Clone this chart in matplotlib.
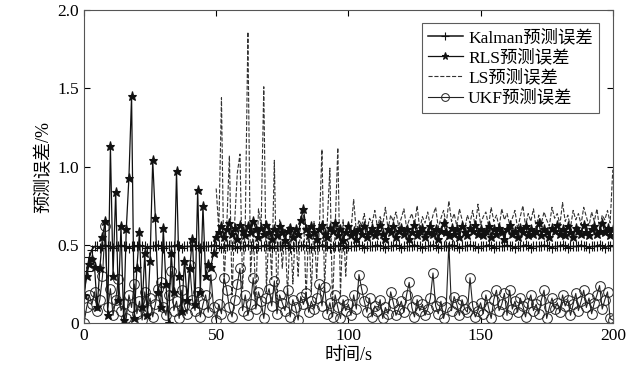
import matplotlib.pyplot as plt

plt.rcParams['font.family'] = ['Liberation Serif', 'Noto Sans CJK SC']

# 时间轴
t_all = list(range(0, 201))
t_ls = list(range(50, 201))

kalman = [0.18, 0.33, 0.42, 0.47, 0.49, 0.49, 0.48, 0.49, 0.50, 0.49,
          0.49, 0.48, 0.49, 0.49, 0.50, 0.49, 0.49, 0.48, 0.49, 0.49,
          0.49, 0.50, 0.49, 0.49, 0.48, 0.49, 0.49, 0.49, 0.50, 0.49,
          0.48, 0.49, 0.49, 0.49, 0.49, 0.50, 0.49, 0.48, 0.49, 0.49,
          0.49, 0.49, 0.50, 0.49, 0.48, 0.49, 0.49, 0.49, 0.49, 0.50,
          0.49, 0.49, 0.48, 0.49, 0.49, 0.50, 0.49, 0.49, 0.48, 0.49,
          0.49, 0.49, 0.50, 0.49, 0.49, 0.48, 0.49, 0.49, 0.49, 0.50,
          0.49, 0.48, 0.49, 0.49, 0.49, 0.49, 0.50, 0.49, 0.48, 0.49,
          0.49, 0.49, 0.49, 0.50, 0.49, 0.49, 0.48, 0.49, 0.49, 0.49,
          0.50, 0.49, 0.49, 0.48, 0.49, 0.49, 0.49, 0.50, 0.49, 0.48,
          0.49, 0.49, 0.49, 0.49, 0.50, 0.49, 0.48, 0.49, 0.49, 0.49,
          0.49, 0.50, 0.49, 0.49, 0.48, 0.49, 0.49, 0.49, 0.50, 0.49,
          0.48, 0.49, 0.49, 0.49, 0.49, 0.50, 0.49, 0.49, 0.48, 0.49,
          0.49, 0.49, 0.50, 0.49, 0.48, 0.49, 0.49, 0.49, 0.49, 0.50,
          0.49, 0.49, 0.48, 0.49, 0.49, 0.49, 0.50, 0.49, 0.49, 0.48,
          0.49, 0.49, 0.49, 0.50, 0.49, 0.48, 0.49, 0.49, 0.49, 0.49,
          0.50, 0.49, 0.49, 0.48, 0.49, 0.49, 0.49, 0.50, 0.49, 0.48,
          0.49, 0.49, 0.49, 0.49, 0.50, 0.49, 0.49, 0.48, 0.49, 0.49,
          0.49, 0.50, 0.49, 0.48, 0.49, 0.49, 0.49, 0.49, 0.50, 0.49,
          0.49, 0.48, 0.49, 0.49, 0.49, 0.50, 0.49, 0.48, 0.49, 0.49,
          0.49]

rls = [0.18, 0.30, 0.38, 0.41, 0.36, 0.10, 0.35, 0.55, 0.65, 0.05,
       1.13, 0.30, 0.84, 0.15, 0.62, 0.02, 0.60, 0.93, 1.45, 0.03,
       0.35, 0.58, 0.10, 0.45, 0.05, 0.40, 1.04, 0.67, 0.20, 0.10,
       0.61, 0.25, 0.00, 0.45, 0.20, 0.97, 0.30, 0.08, 0.40, 0.15,
       0.35, 0.54, 0.12, 0.85, 0.20, 0.75, 0.30, 0.38, 0.36, 0.45,
       0.55,
       0.58, 0.62, 0.55, 0.60, 0.64, 0.57, 0.61, 0.54, 0.63, 0.59,
       0.56, 0.62, 0.58, 0.65, 0.60, 0.55, 0.61, 0.57, 0.63, 0.58,
       0.54, 0.60, 0.56, 0.62, 0.58, 0.53, 0.59, 0.61, 0.55, 0.60,
       0.57, 0.66, 0.73, 0.60, 0.56, 0.62, 0.58, 0.54, 0.60, 0.63,
       0.57, 0.55, 0.61, 0.59, 0.64, 0.56, 0.60, 0.53, 0.58, 0.62,
       0.56, 0.59, 0.54, 0.60, 0.57, 0.62, 0.55, 0.58, 0.61, 0.56,
       0.59, 0.63, 0.57, 0.54, 0.60, 0.58, 0.62, 0.55, 0.59, 0.61,
       0.57, 0.60, 0.54, 0.58, 0.63, 0.56, 0.59, 0.61, 0.55, 0.58,
       0.62, 0.57, 0.60, 0.54, 0.59, 0.64, 0.58, 0.56, 0.61, 0.57,
       0.60, 0.55, 0.62, 0.58, 0.56, 0.61, 0.59, 0.63, 0.57, 0.60,
       0.56, 0.59, 0.62, 0.55, 0.60, 0.57, 0.61, 0.58, 0.54, 0.60,
       0.63, 0.57, 0.59, 0.55, 0.61, 0.58, 0.62, 0.56, 0.60, 0.57,
       0.59, 0.64, 0.56, 0.60, 0.58, 0.55, 0.61, 0.59, 0.63, 0.57,
       0.60, 0.56, 0.62, 0.58, 0.55, 0.61, 0.59, 0.57, 0.63, 0.58,
       0.56, 0.60, 0.62, 0.57, 0.59, 0.64, 0.58, 0.61, 0.56, 0.60]

ls = [0.86, 0.60, 1.44, 0.25, 0.62, 1.07, 0.18, 0.65, 0.96, 1.08,
      0.22, 0.63, 1.86, 0.30, 0.60, 0.15, 0.73, 0.62, 1.51, 0.20,
      0.64, 0.28, 1.04, 0.12, 0.66, 0.35, 0.60, 0.18, 0.63, 0.25,
      0.61, 0.30, 0.68, 0.73, 0.15, 0.62, 0.20, 0.65, 0.28, 0.60,
      1.11, 0.22, 0.64, 0.99, 0.10, 0.62, 1.12, 0.18, 0.66, 0.30,
      0.63, 0.60, 0.79, 0.58, 0.66, 0.62, 0.70, 0.59, 0.67, 0.64,
      0.72, 0.61, 0.68, 0.63, 0.74, 0.60, 0.69, 0.65, 0.71, 0.62,
      0.67, 0.73, 0.61, 0.66, 0.70, 0.63, 0.75, 0.60, 0.68, 0.64,
      0.71, 0.62, 0.69, 0.74, 0.61, 0.67, 0.72, 0.63, 0.78, 0.65,
      0.70, 0.62, 0.73, 0.66, 0.60, 0.69, 0.64, 0.72, 0.61, 0.76,
      0.63, 0.68, 0.71, 0.62, 0.74, 0.65, 0.69, 0.61, 0.73, 0.66,
      0.70, 0.63, 0.67, 0.72, 0.60, 0.68, 0.75, 0.62, 0.70, 0.65,
      0.73, 0.61, 0.69, 0.64, 0.71, 0.66, 0.62, 0.74, 0.67, 0.70,
      0.63, 0.77, 0.65, 0.69, 0.61, 0.72, 0.66, 0.70, 0.63, 0.74,
      0.68, 0.62, 0.71, 0.65, 0.73, 0.60, 0.69, 0.66, 0.72, 0.64,
      0.98]

ukf = [0.00, 0.10, 0.18, 0.12, 0.20, 0.08, 0.15, 0.30, 0.62, 0.10,
       0.22, 0.05, 0.15, 0.28, 0.08, 0.12, 0.03, 0.18, 0.10, 0.25,
       0.06, 0.14, 0.02, 0.20, 0.09, 0.16, 0.04, 0.12, 0.22, 0.26,
       0.10, 0.05, 0.18, 0.33, 0.08, 0.14, 0.03, 0.21, 0.11, 0.06,
       0.37, 0.15, 0.08, 0.20, 0.04, 0.12, 0.18, 0.07, 0.31, 0.10,
       0.02, 0.12, 0.06, 0.29, 0.21, 0.10, 0.04, 0.15, 0.25, 0.35,
       0.08, 0.18, 0.05, 0.12, 0.29, 0.09, 0.20, 0.14, 0.03, 0.16,
       0.22, 0.11, 0.27, 0.06, 0.18, 0.13, 0.08, 0.21, 0.04, 0.15,
       0.10, 0.02, 0.17, 0.12, 0.19, 0.07, 0.14, 0.09, 0.16, 0.25,
       0.11, 0.23, 0.06, 0.13, 0.04, 0.18, 0.10, 0.03, 0.15, 0.08,
       0.12, 0.05, 0.18, 0.09, 0.31, 0.22, 0.14, 0.07, 0.16, 0.04,
       0.11, 0.08, 0.15, 0.03, 0.10, 0.06, 0.20, 0.13, 0.05, 0.09,
       0.14, 0.07, 0.18, 0.26, 0.10, 0.04, 0.15, 0.08, 0.12, 0.05,
       0.09, 0.16, 0.32, 0.11, 0.06, 0.14, 0.03, 0.10, 0.51, 0.08,
       0.17, 0.12, 0.05, 0.15, 0.09, 0.07, 0.29, 0.11, 0.04, 0.08,
       0.13, 0.06, 0.18, 0.10, 0.03, 0.15, 0.21, 0.08, 0.12, 0.19,
       0.05, 0.21, 0.09, 0.14, 0.07, 0.16, 0.11, 0.04, 0.13, 0.18,
       0.08, 0.12, 0.06, 0.15, 0.21, 0.03, 0.10, 0.16, 0.09, 0.13,
       0.07, 0.18, 0.11, 0.15, 0.05, 0.12, 0.19, 0.08, 0.14, 0.21,
       0.10, 0.16, 0.06, 0.13, 0.18, 0.24, 0.09, 0.15, 0.20, 0.03,
       0.02]

fig = plt.figure(figsize=(6.41, 3.87), dpi=100)
ax = fig.add_axes([0.131, 0.165, 0.825, 0.809])

ax.plot(t_ls, ls, '--', color='#333333', lw=0.8, label='LS预测误差')
ax.plot(t_all, ukf, '-', color='#222222', lw=0.8, marker='o', ms=7,
        mfc='none', mew=0.7, label='UKF预测误差')
ax.plot(t_all, rls, '-', color='#111111', lw=0.9, marker='*', ms=6.5,
        mew=0.8, label='RLS预测误差')
ax.plot(t_all, kalman, '-', color='#111111', lw=1.1, marker='+', ms=7,
        mew=0.8, label='Kalman预测误差')

ax.set_xlim(0, 200)
ax.set_ylim(0, 2.0)
ax.set_xticks([0, 50, 100, 150, 200])
ax.set_yticks([0, 0.5, 1.0, 1.5, 2.0])
ax.set_yticklabels(['0', '0.5', '1.0', '1.5', '2.0'])
ax.tick_params(direction='in', top=True, right=True, labelsize=12.5, length=4)
for s in ax.spines.values():
    s.set_color('#555555')
    s.set_linewidth(0.8)

ax.set_xlabel('时间/s', fontsize=13, labelpad=2)
ax.set_ylabel('预测误差/%', fontsize=13, labelpad=4)

# 图例顺序与原图一致
h, l = ax.get_legend_handles_labels()
order = [3, 2, 0, 1]
leg = ax.legend([h[i] for i in order], [l[i] for i in order],
                loc='upper right', fontsize=12.5, frameon=True, fancybox=False,
                edgecolor='#333333', handlelength=2.0, borderpad=0.35,
                labelspacing=0.2, handletextpad=0.3, borderaxespad=0,
                bbox_to_anchor=(0.9735, 0.958), markerscale=0.8)
leg.get_frame().set_linewidth(0.8)

fig.savefig('out.png', dpi=100)
